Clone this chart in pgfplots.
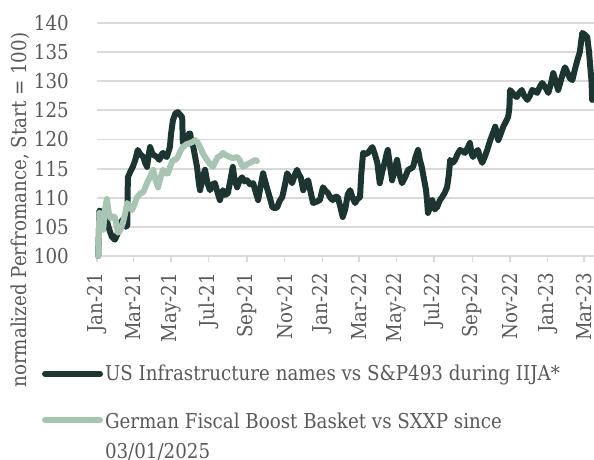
\documentclass[border=0pt]{standalone}
\usepackage{pgfplots}
\pgfplotsset{compat=1.18}
\usepackage{fontspec}
\setmainfont{DejaVu Serif}[FakeStretch=0.89]
\definecolor{darkline}{HTML}{1C3531}
\definecolor{sageline}{HTML}{A8C4B2}
\definecolor{gridgray}{HTML}{D9D9D9}
\definecolor{textgray}{HTML}{595959}

\begin{document}
\begin{tikzpicture}
\begin{axis}[
  at={(0pt,0pt)}, anchor=south west,
  scale only axis,
  width=497pt, height=233pt,
  xmin=0, xmax=805,
  ymin=100, ymax=140,
  axis line style={draw=none},
  axis x line*=bottom,
  axis y line*=left,
  xtick={0,59,120,181,243,304,365,424,485,546,608,669,730,789},
  xticklabels={Jan-21,Mar-21,May-21,Jul-21,Sep-21,Nov-21,Jan-22,Mar-22,May-22,Jul-22,Sep-22,Nov-22,Jan-23,Mar-23},
  ytick={100,105,...,140},
  ymajorgrids,
  grid style={gridgray, line width=1.8pt},
  tick align=outside,
  major tick length=6pt,
  major x tick style={gridgray, line width=1.5pt},
  major y tick style={draw=none},
  tick label style={font=\fontsize{20.5}{24}\selectfont, text=textgray},
  xticklabel style={rotate=90, anchor=east, inner sep=0pt},
  xticklabel shift=11pt,
  yticklabel style={anchor=east, inner sep=0pt},
  yticklabel shift=22pt,
  /pgf/number format/assume math mode=true,
  ylabel={normalized Perfromance, Start = 100)},
  ylabel style={font=\fontsize{20.5}{24}\selectfont, text=textgray,
    at={(axis description cs:-0.155,0.197)}, anchor=center},
  legend style={draw=none, fill=none, inner sep=0pt,
    at={(axis description cs:-0.111,-0.46)}, anchor=north west,
    font=\fontsize{20.5}{27}\selectfont, text=textgray,
    row sep=23pt, column sep=0pt,
    nodes={inner sep=2pt}},
  legend cell align=left,
  legend image code/.code={\draw[#1] (0pt,0pt) -- (55pt,0pt);},
  clip=false,
]
\addplot[darkline, line width=6pt, line join=round, line cap=round] coordinates {
(2,100) (4,107.8) (8,107.5) (12,106.5) (16,106) (20,104.5) (24,103.3) (29,102.8)
(32,103.5) (34,104) (37,105.5) (40,106) (44,106.5) (47,105) (49,105.3) (50,113.5)
(54,114.5) (58,115.3) (62,116.5) (66,118.2) (70,117.5) (75,117) (78,116) (81,115.3)
(84,117.5) (86,118.7) (90,117.5) (94,117.2) (97,117) (101,116.5) (105,117.5) (107,117.7)
(110,117.2) (113,117) (116,118) (118,118.7) (120,121) (123,123.3) (127,124.5) (131,124.7)
(135,124.2) (138,123.8) (139,119.4) (143,119.8) (146,120) (149,121) (151,121) (153,119.5)
(156,118.7) (159,117) (162,115.3) (165,112.5) (167,111.3) (171,113.5) (175,114.8) (179,112.5)
(183,111.3) (187,112.3) (191,112.5) (195,111) (199,109.6) (204,111.3) (208,110.5) (212,110.8)
(216,113) (220,115.3) (223,113) (227,111.8) (231,113) (235,113.5) (239,112.8) (243,113)
(248,112.3) (253,112.5) (257,111) (261,109.6) (265,112) (269,114.2) (272,113) (275,111.8)
(280,110) (284,108.4) (288,108.2) (292,108.4) (296,109.5) (300,110.1) (304,112) (308,114.2)
(312,113.5) (316,112.5) (320,113.8) (324,114.8) (327,114) (330,113.5) (334,111.3) (338,112.5)
(342,113) (346,111) (350,109.1) (355,109.3) (361,109.6) (366,111.8) (370,111.2) (374,110.8)
(378,110) (382,109.6) (386,110.2) (390,110.1) (394,108.5) (398,106.7) (402,108) (406,110.5)
(410,111.3) (414,110) (418,109.1) (422,109.8) (426,110.1) (428,114) (431,117.7) (435,117.5)
(439,117.7) (443,118.3) (446,118.7) (450,117.5) (454,116) (458,112.5) (462,114.5) (467,116.5)
(469,117.5) (471,118.2) (474,116) (478,113) (482,114.8) (486,116.5) (490,114) (494,112.5)
(499,113.5) (504,114.8) (508,115) (512,115.3) (516,117) (520,118.2) (523,116.5) (526,115.3)
(530,113) (533,111.3) (535,109) (536,107.4) (540,108.5) (543,109.6) (547,108) (551,108.4)
(555,109.5) (559,110.1) (563,110.8) (567,111.8) (570,114) (572,116.5) (576,116) (580,116.5)
(584,117.5) (588,118.2) (592,118) (596,117.7) (600,118.5) (604,119.4) (607,117.5) (609,117)
(613,117.8) (617,118.2) (620,117) (624,116) (628,117) (632,118.2) (637,119.9) (641,121)
(645,122.2) (648,121) (650,119.9) (654,121) (658,122.2) (662,123) (666,123.9) (668,125.5)
(669,128.5) (673,128) (677,127.5) (680,127.3) (684,128) (688,128.5) (692,127.5) (697,126.8)
(701,127.5) (705,128.5) (709,128.3) (713,128) (717,129) (721,129.7) (726,129) (731,128)
(735,129.5) (739,131.4) (743,130) (747,128.5) (751,130) (755,131.5) (758,132.4) (762,131.5)
(766,130.5) (770,130.2) (774,132) (778,133.6) (782,135) (786,138.3) (790,138) (794,137.6)
(797,135) (799,132.4) (801,130) (802,126.8)
};
\addlegendentry{US Infrastructure names vs S\&P493 during IIJA*}

\addplot[sageline, line width=6pt, line join=round, line cap=round] coordinates {
(2,100) (4,107.4) (7,106) (10,104.5) (13,108) (16,109.8) (19,107.5) (22,106.5)
(26,106.8) (29,106.7) (32,105) (34,104) (38,104.5) (42,105.7) (46,107.5) (49,109.1)
(53,108.5) (57,107.9) (61,109) (65,110.1) (70,110.7) (75,111) (79,112) (83,113)
(87,113.8) (91,114.8) (95,113) (99,111.8) (103,113.5) (107,114.8) (111,114.2) (115,114.2)
(119,115.5) (123,116.5) (127,116.5) (131,117) (135,118) (139,118.7) (145,119.2) (151,119.4)
(155,119.6) (159,119.9) (163,119.5) (167,118.7) (172,117.5) (178,116.5) (183,115.8) (188,115.3)
(192,116.3) (196,117) (200,117.2) (204,117.7) (209,117.3) (215,117) (220,116.8) (227,117)
(231,116.5) (236,115.3) (240,115.5) (244,115.8) (248,116) (253,116.3) (257,116.5) (259,116.3)
};
\addlegendentry{\begin{tabular}[t]{@{}l@{}}German Fiscal Boost Basket vs SXXP since\\[3pt]03/01/2025\end{tabular}}
\end{axis}
\pgfresetboundingbox
\useasboundingbox (-97pt,-203pt) rectangle (497pt,256pt);
\end{tikzpicture}
\end{document}
